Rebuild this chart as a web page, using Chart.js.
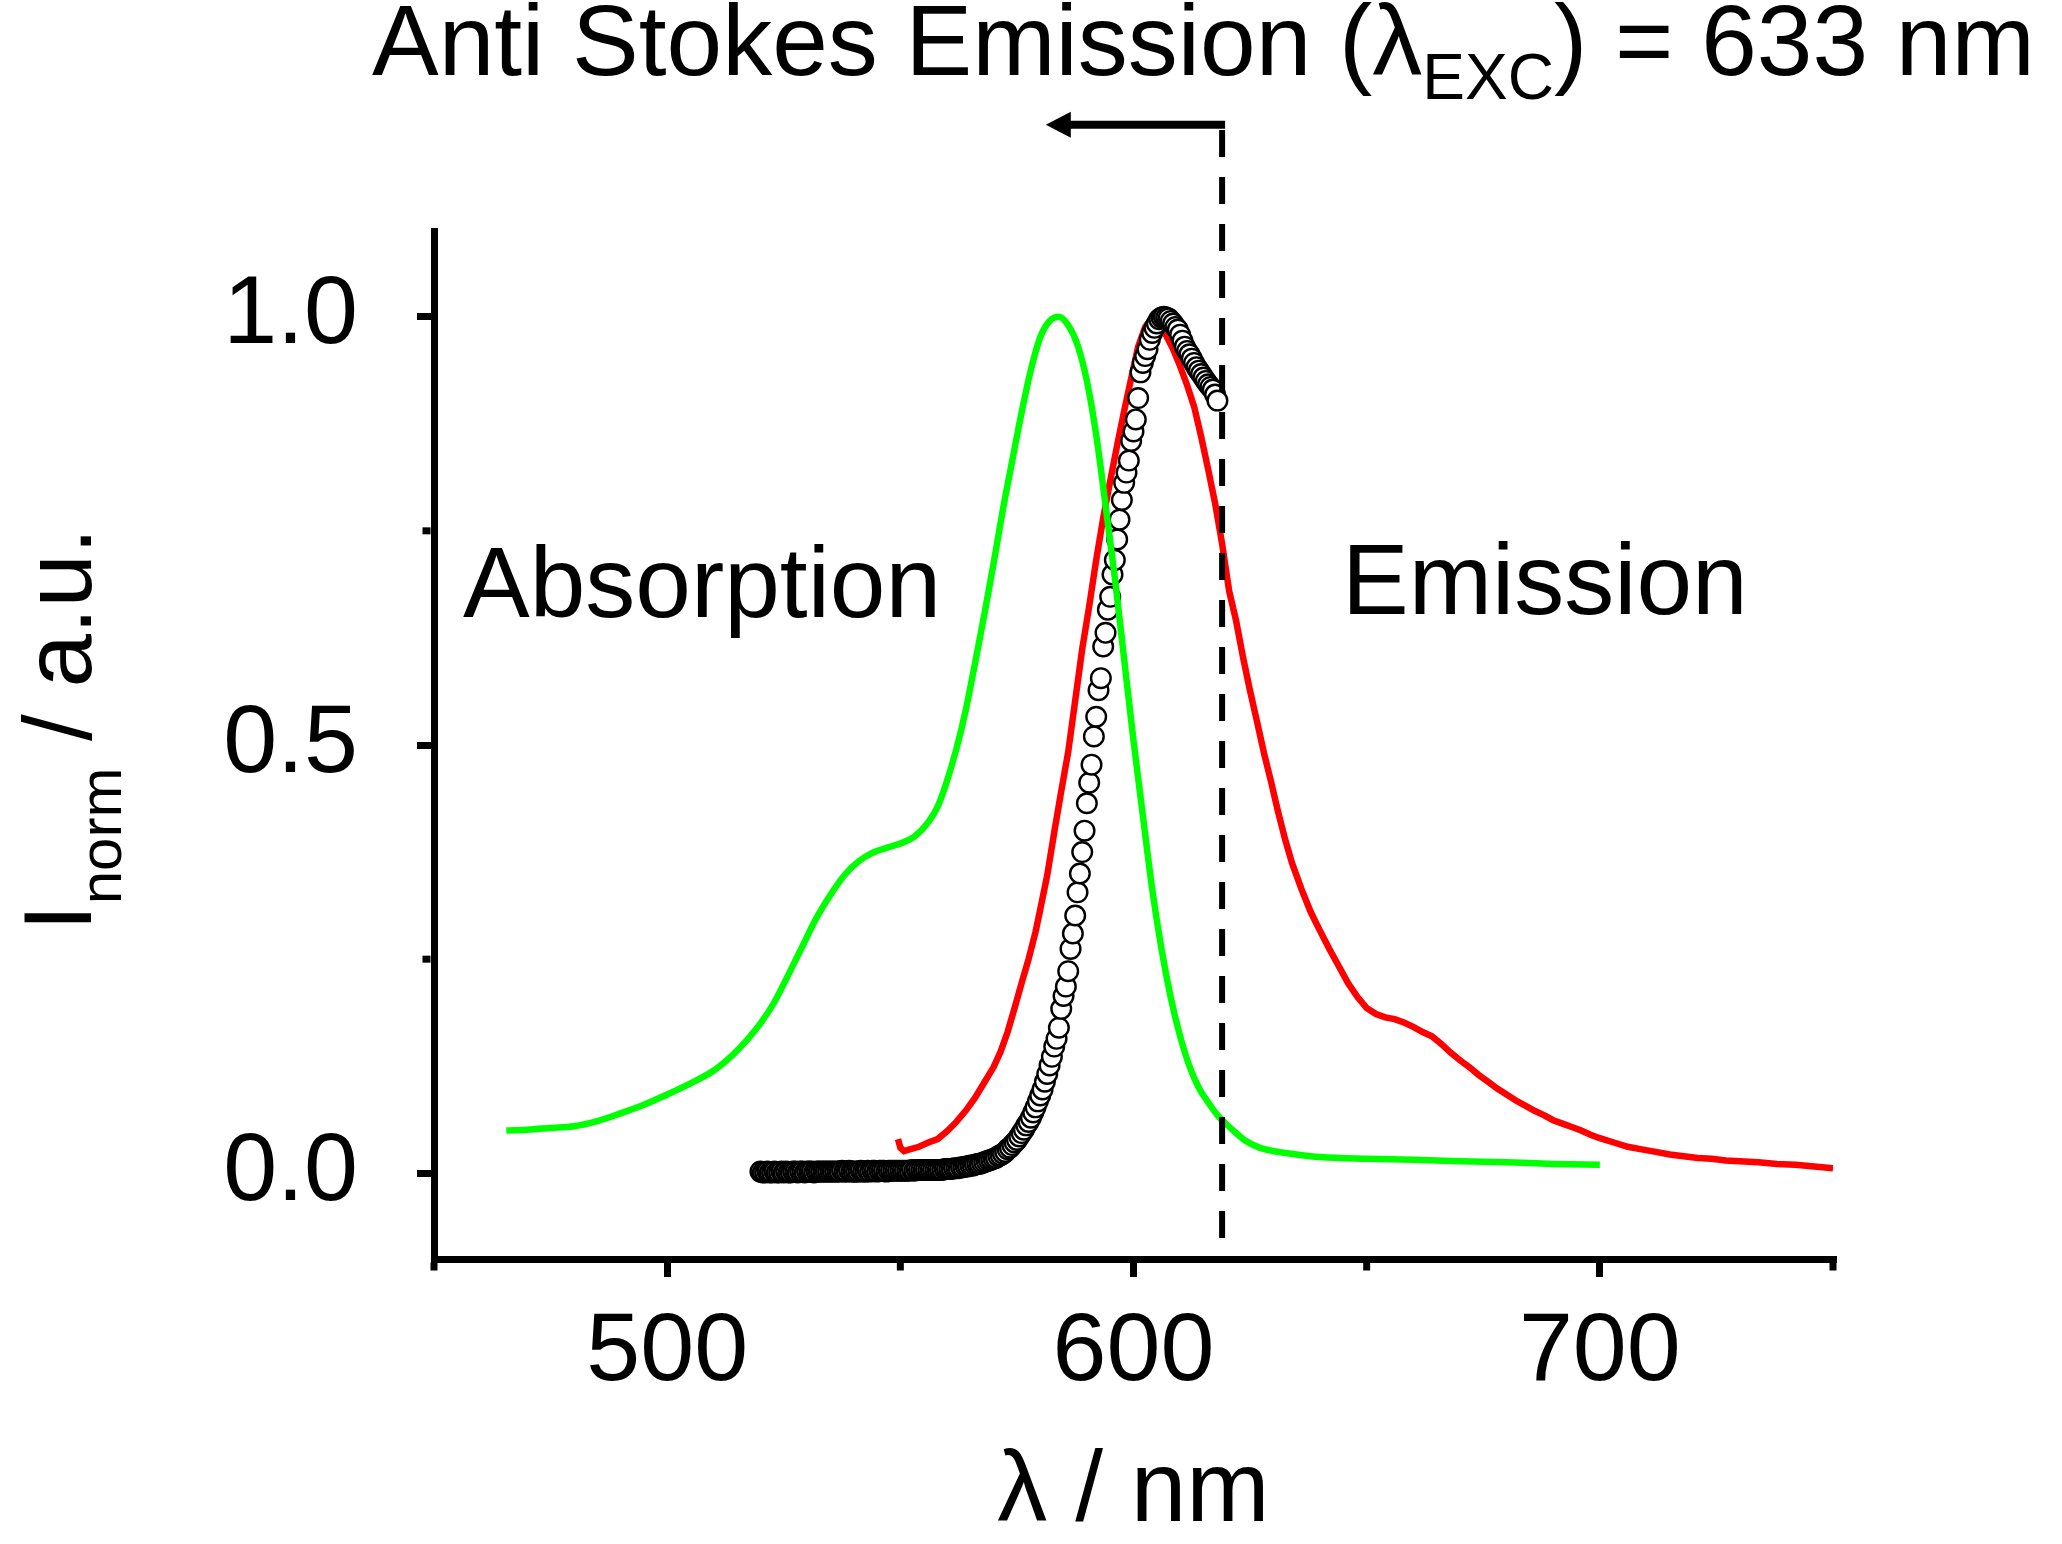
<!DOCTYPE html>
<html>
<head>
<meta charset="utf-8">
<script src="https://cdn.jsdelivr.net/npm/chart.js@4.4.1/dist/chart.umd.min.js"></script>
<style>
  html, body { margin: 0; padding: 0; background: #ffffff; }
  #wrap { width: 2062px; height: 1544px; position: relative; }
  canvas { display: block; }
</style>
</head>
<body>
<div id="wrap"><canvas id="c" width="2062" height="1544"></canvas></div>
<script>
// ---------- DATA ----------
const xTickValues = [500, 600, 700];
const xTickLabels = ['500', '600', '700'];
const xMinorTicks = [450, 550, 650, 750];
const yTickValues = [0, 0.5, 1.0];
const yTickLabels = ['0.0', '0.5', '1.0'];
const yMinorTicks = [0.25, 0.75];

// Absorption (green)
const absWavelength = [465.5,470,475,480,485,490,495,500,505,510,514,517,520,523,526,529,532,535,538,541,544,547,550,553,556,558,560,562,564,566,568,570,572,574,576,578,580,582,584,586,588,590,592,594,596,598,600,602,604,606,608,610,612,614,616,618,620,622,624,627,630,635,640,650,660,670,680,690,700];
const absIntensity = [0.050,0.051,0.053,0.055,0.061,0.070,0.080,0.092,0.105,0.120,0.138,0.155,0.175,0.200,0.232,0.265,0.298,0.325,0.348,0.364,0.374,0.380,0.385,0.393,0.410,0.428,0.458,0.495,0.540,0.595,0.652,0.712,0.775,0.832,0.888,0.938,0.976,0.995,1.000,0.990,0.967,0.925,0.862,0.780,0.695,0.600,0.505,0.418,0.332,0.262,0.205,0.160,0.125,0.100,0.083,0.068,0.057,0.047,0.038,0.030,0.026,0.022,0.019,0.017,0.016,0.014,0.013,0.011,0.010];

// Emission (red)
const emWavelength = [549.5,550,550.8,552,554,556,558,560,562,564,566,568,570,571.5,573,574.5,576,577.5,579,580,581.5,583,584.5,586,587.5,589,590.5,592,593.5,595,596.5,598,599.5,601,602.5,604,605.5,607,608.5,610,611.5,613,614.5,616,617.5,619,620.5,622,623.5,625,626.5,628,629.5,631,632.5,634,636,638,640,642,644,646,648,650,652,654,656,658,660,662,664,666,668,670,672,674,676,678,680,682,684,686,688,690,692,694,696,698,700,703,706,709,712,715,718,721,724,727,730,734,738,742,746,750];
const emIntensity = [0.040,0.030,0.026,0.028,0.031,0.036,0.040,0.049,0.060,0.073,0.088,0.106,0.124,0.142,0.165,0.193,0.222,0.250,0.282,0.308,0.348,0.398,0.446,0.492,0.552,0.612,0.662,0.716,0.765,0.808,0.850,0.890,0.928,0.965,0.988,0.999,0.992,0.978,0.962,0.942,0.920,0.895,0.860,0.822,0.782,0.735,0.680,0.645,0.602,0.563,0.527,0.490,0.457,0.422,0.390,0.362,0.332,0.305,0.283,0.262,0.242,0.222,0.206,0.193,0.186,0.182,0.180,0.176,0.171,0.165,0.160,0.151,0.141,0.132,0.124,0.115,0.107,0.099,0.092,0.085,0.079,0.073,0.068,0.062,0.058,0.054,0.050,0.045,0.041,0.036,0.031,0.028,0.025,0.022,0.020,0.018,0.017,0.015,0.014,0.013,0.011,0.010,0.008,0.006];

// Anti-Stokes emission (open circles)
const asWavelength = [
520,520.5,521,521.5,522,522.5,523,523.5,524,524.5,
525,525.5,526,526.5,527,527.5,528,528.5,529,529.5,
530,530.5,531,531.5,532,532.5,533,533.5,534,534.5,
535,535.5,536,536.5,537,537.5,538,538.5,539,539.5,
540,540.5,541,541.5,542,542.5,543,543.5,544,544.5,
545,545.5,546,546.5,547,547.5,548,548.5,549,549.5,
550,550.5,551,551.5,552,552.5,553,553.5,554,554.5,
555,555.5,556,556.5,557,557.5,558,558.5,559,559.5,
560,560.5,561,561.5,562,562.5,563,563.5,564,564.5,
565,565.5,566,566.5,567,567.5,568,568.5,569,569.5,
570,570.5,571,571.5,572,572.5,573,573.5,574,574.5,
575,575.5,576,576.5,577,577.5,578,578.5,579,579.5,
580,580.5,581,581.5,582,582.5,583,583.5,584,584.5,
585,585.5,586,586.5,587,587.5,588,588.5,589,589.5,
590,590.5,591,591.5,592,592.5,593,593.5,594,594.5,
595,595.5,596,596.5,597,597.5,598,598.5,599,599.5,
600,600.5,601,601.5,602,602.5,603,603.5,604,604.5,
605,605.5,606,606.5,607,607.5,608,608.5,609,609.5,
610,610.5,611,611.5,612,612.5,613,613.5,614,614.5,
615,615.5,616,616.5,617,617.5,618];
const asIntensity = [
0.002,0.001,0.001,0.002,0.001,0.001,0.002,0.001,0.001,0.002,
0.001,0.002,0.001,0.001,0.002,0.002,0.001,0.002,0.002,0.001,
0.002,0.002,0.002,0.001,0.002,0.002,0.002,0.002,0.002,0.002,
0.002,0.002,0.002,0.002,0.002,0.003,0.002,0.002,0.003,0.002,
0.002,0.002,0.002,0.003,0.002,0.002,0.003,0.002,0.003,0.003,
0.002,0.003,0.003,0.003,0.002,0.003,0.003,0.003,0.003,0.003,
0.003,0.003,0.003,0.003,0.003,0.004,0.003,0.004,0.004,0.004,
0.004,0.004,0.004,0.004,0.004,0.004,0.004,0.004,0.004,0.005,
0.005,0.005,0.005,0.006,0.006,0.006,0.007,0.007,0.008,0.008,
0.009,0.009,0.010,0.011,0.011,0.012,0.013,0.014,0.015,0.016,
0.017,0.018,0.020,0.021,0.023,0.025,0.028,0.030,0.033,0.036,
0.039,0.043,0.047,0.051,0.056,0.060,0.065,0.071,0.077,0.084,
0.091,0.098,0.107,0.116,0.126,0.136,0.148,0.157,0.170,0.192,
0.207,0.218,0.236,0.262,0.280,0.301,0.328,0.350,0.375,0.400,
0.432,0.456,0.477,0.510,0.533,0.564,0.578,0.615,0.631,0.658,
0.673,0.699,0.716,0.740,0.763,0.786,0.806,0.818,0.832,0.855,
0.866,0.880,0.905,0.935,0.946,0.954,0.962,0.973,0.981,0.987,
0.992,0.997,0.999,1.000,0.999,0.998,0.995,0.992,0.988,0.985,
0.979,0.972,0.965,0.960,0.956,0.951,0.946,0.941,0.937,0.933,
0.929,0.925,0.921,0.918,0.915,0.909,0.902];

// Excitation marker (dashed line) and anti-Stokes arrow
const excLineX = [619, 619];
const excLineY = [1.218, -0.1];
const arrowX = [619, 581.2];
const arrowY = [1.224, 1.224];

// Texts
const titleMain = 'Anti Stokes Emission (\u03BB';
const titleSub = 'EXC';
const titleEnd = ') = 633 nm';
const xTitle = '\u03BB / nm';
const yTitleMain = 'I';
const yTitleSub = 'norm';
const yTitleEnd = ' / a.u.';
const labelAbs = 'Absorption';
const labelEm = 'Emission';

// ---------- CHART ----------
const FONT = '"Liberation Sans", Arial, Helvetica, sans-serif';
const toPts = (xs, ys) => xs.map((x, i) => ({ x: x, y: ys[i] }));

const annotPlugin = {
  id: 'annot',
  afterDraw(chart) {
    const ctx = chart.ctx;
    const xs = chart.scales.x, ys = chart.scales.y;
    ctx.save();
    ctx.fillStyle = '#000';
    ctx.strokeStyle = '#000';
    // minor ticks
    ctx.lineWidth = 7;
    ctx.lineCap = 'butt';
    const axB = chart.chartArea.bottom + 3.5;
    xMinorTicks.forEach(v => {
      const px = xs.getPixelForValue(v);
      ctx.beginPath(); ctx.moveTo(px, axB); ctx.lineTo(px, axB + 8); ctx.stroke();
    });
    const axL = chart.chartArea.left - 3.5;
    yMinorTicks.forEach(v => {
      const py = ys.getPixelForValue(v);
      ctx.beginPath(); ctx.moveTo(axL, py); ctx.lineTo(axL - 8, py); ctx.stroke();
    });
    // arrow
    const ax0 = xs.getPixelForValue(arrowX[0]);
    const ax1 = xs.getPixelForValue(arrowX[1]);
    const ay = ys.getPixelForValue(arrowY[0]);
    const headLen = 25, headHalf = 13;
    ctx.lineWidth = 8;
    ctx.beginPath(); ctx.moveTo(ax0 + 3, ay); ctx.lineTo(ax1 + headLen - 2, ay); ctx.stroke();
    ctx.beginPath();
    ctx.moveTo(ax1, ay);
    ctx.lineTo(ax1 + headLen, ay - headHalf);
    ctx.lineTo(ax1 + headLen, ay + headHalf);
    ctx.closePath(); ctx.fill();

    // title with subscript
    ctx.textBaseline = 'alphabetic';
    ctx.textAlign = 'left';
    let tx = 372;
    ctx.font = '100px ' + FONT;
    ctx.fillText(titleMain, tx, 75);
    tx += ctx.measureText(titleMain).width;
    ctx.font = '64px ' + FONT;
    ctx.fillText(titleSub, tx, 99);
    tx += ctx.measureText(titleSub).width;
    ctx.font = '100px ' + FONT;
    ctx.fillText(titleEnd, tx, 75);

    // in-plot labels
    ctx.font = '100px ' + FONT;
    ctx.fillText(labelAbs, 463, 617);
    ctx.fillText(labelEm, 1342, 614);

    // y-axis title (rotated, with subscript)
    ctx.translate(91, 931);
    ctx.rotate(-Math.PI / 2);
    let ty = 0;
    ctx.font = '96px ' + FONT;
    ctx.fillText(yTitleMain, ty, 0);
    ty += ctx.measureText(yTitleMain).width;
    ctx.font = '60px ' + FONT;
    ctx.fillText(yTitleSub, ty, 30);
    ty += ctx.measureText(yTitleSub).width;
    ctx.font = '96px ' + FONT;
    ctx.fillText(yTitleEnd, ty, 0);
    ctx.restore();
  }
};

new Chart(document.getElementById('c'), {
  type: 'scatter',
  data: {
    datasets: [
      {
        label: 'excitation',
        data: toPts(excLineX, excLineY),
        showLine: true,
        borderColor: '#000',
        borderWidth: 6,
        borderDash: [27, 20],
        pointRadius: 0,
        clip: false,
        order: 0
      },
      {
        label: 'Absorption',
        data: toPts(absWavelength, absIntensity),
        showLine: true,
        borderColor: '#00ff00',
        borderWidth: 6.5,
        pointRadius: 0,
        cubicInterpolationMode: 'monotone',
        order: 1
      },
      {
        label: 'Anti-Stokes',
        data: toPts(asWavelength, asIntensity),
        showLine: false,
        pointRadius: 9.8,
        pointBorderWidth: 2.4,
        pointBackgroundColor: '#ffffff',
        pointBorderColor: '#000000',
        order: 2
      },
      {
        label: 'Emission',
        data: toPts(emWavelength, emIntensity),
        showLine: true,
        borderColor: '#ff0000',
        borderWidth: 6.5,
        pointRadius: 0,
        tension: 0,
        order: 3
      }
    ]
  },
  options: {
    responsive: false,
    animation: false,
    devicePixelRatio: 1,
    events: [],
    layout: { padding: { top: 231, right: 229, left: 0, bottom: 0 } },
    plugins: { legend: { display: false }, tooltip: { enabled: false }, title: { display: false } },
    scales: {
      x: {
        type: 'linear',
        min: 450, max: 750,
        afterBuildTicks: (s) => { s.ticks = xTickValues.map(v => ({ value: v })); },
        afterFit: (s) => { s.height = 285; },
        ticks: {
          color: '#000',
          font: { family: FONT, size: 97, lineHeight: 1.2 },
          padding: 18,
          maxRotation: 0,
          autoSkip: false,
          callback: (v) => xTickLabels[xTickValues.indexOf(v)]
        },
        grid: { drawOnChartArea: false, drawTicks: true, tickLength: 18, tickWidth: 7, tickColor: '#000', lineWidth: 7, color: '#000' },
        border: { display: true, color: '#000', width: 7 },
        title: {
          display: true, text: xTitle, color: '#000',
          font: { family: FONT, size: 100, lineHeight: 1 },
          padding: { top: 0, bottom: 1 }
        }
      },
      y: {
        type: 'linear',
        min: -0.1, max: 1.1,
        afterBuildTicks: (s) => { s.ticks = yTickValues.map(v => ({ value: v })); },
        afterFit: (s) => { s.width = 434; },
        ticks: {
          color: '#000',
          font: { family: FONT, size: 97, lineHeight: 1.2 },
          padding: 59,
          autoSkip: false,
          callback: (v) => yTickLabels[yTickValues.indexOf(v)]
        },
        grid: { drawOnChartArea: false, drawTicks: true, tickLength: 17, tickWidth: 7, tickColor: '#000', lineWidth: 7, color: '#000' },
        border: { display: true, color: '#000', width: 7 }
      }
    }
  },
  plugins: [annotPlugin]
});
</script>
</body>
</html>
